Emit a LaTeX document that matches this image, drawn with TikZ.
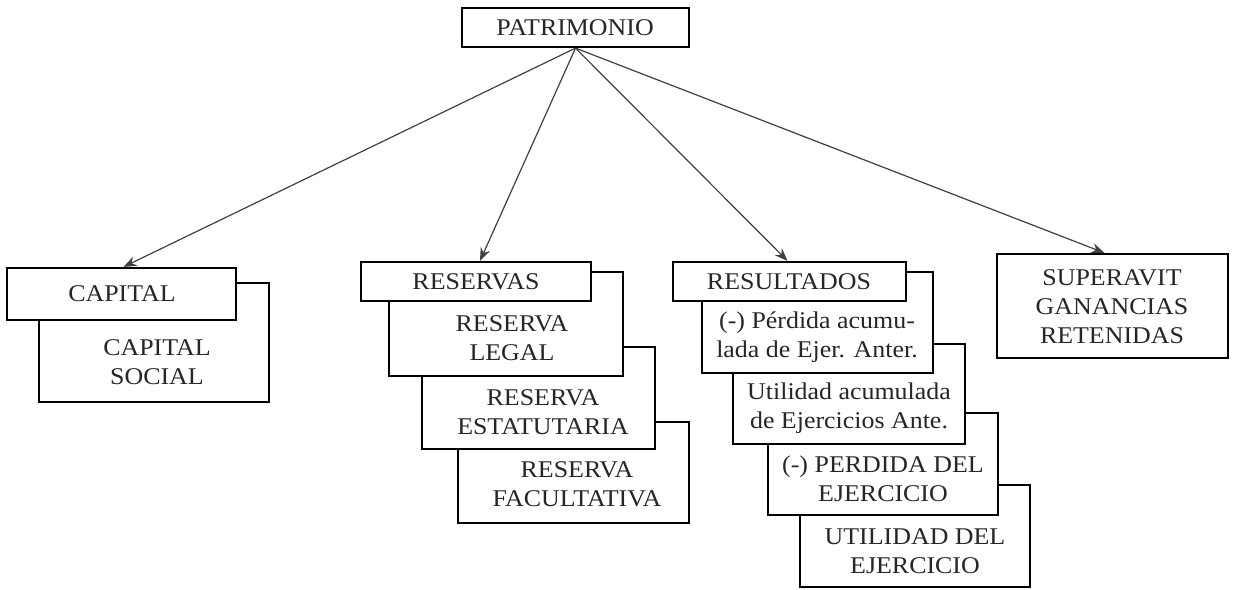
\documentclass[tikz,border=0pt]{standalone}
\usepackage{fontspec}
\setmainfont[FakeStretch=1.08]{Liberation Serif}
\usetikzlibrary{fit,arrows.meta}

\tikzset{
  box/.style={draw=black, line width=1.1pt, fill=white, inner sep=0pt, rectangle},
  lbl/.style={align=center, font=\fontsize{12}{14.5}\selectfont, text=black!85, inner sep=0pt},
  link/.style={draw=black!75, line width=0.6pt, -{Stealth[length=6.5pt,width=5pt]}}
}

\begin{document}
\begin{tikzpicture}[x=0.5pt,y=-0.5pt]
  \useasboundingbox (0,0) rectangle (1234,589);

  % top node
  \node[box, fit={(462,8) (689,47)}] (pat) {};
  \node[lbl] (patt) at (575,28) {PATRIMONIO};

  % capital group (back box first)
  \node[box, fit={(39,283) (269,402)}] (capsoc) {};
  \node[box, fit={(7,268) (236,320)}] (cap) {};
  \node[lbl] (capt) at (122,294) {CAPITAL};
  \node[lbl] (capsoct) at (157,362) {CAPITAL\\SOCIAL};

  % reservas group
  \node[box, fit={(458,422) (689,523)}] (facul) {};
  \node[box, fit={(422,347) (655,449)}] (estat) {};
  \node[box, fit={(389,272) (623,376)}] (legal) {};
  \node[box, fit={(361,262) (591,301)}] (res) {};
  \node[lbl] (rest) at (476,282) {RESERVAS};
  \node[lbl] (legalt) at (512,338) {RESERVA\\LEGAL};
  \node[lbl] (estatt) at (543,412) {RESERVA\\ESTATUTARIA};
  \node[lbl] (facult) at (577,484) {RESERVA\\FACULTATIVA};

  % resultados group
  \node[box, fit={(800,485) (1030,587)}] (uej) {};
  \node[box, fit={(768,413) (998,515)}] (pej) {};
  \node[box, fit={(733,344) (965,444)}] (uacum) {};
  \node[box, fit={(702,272) (933,373)}] (pacum) {};
  \node[box, fit={(673,262) (906,301)}] (resu) {};
  \node[lbl] (resut) at (789,282) {RESULTADOS};
  \node[lbl] (pacumt) at (817,337) {(-) Pérdida acumu-\\lada de Ejer. Anter.};
  \node[lbl] (uacumt) at (849,408) {Utilidad acumulada\\de Ejercicios Ante.};
  \node[lbl] (pejt) at (883,479) {(-) PERDIDA DEL\\EJERCICIO};
  \node[lbl] (uejt) at (915,551) {UTILIDAD DEL\\EJERCICIO};

  % superavit
  \node[box, fit={(997,254) (1228,358)}] (sup) {};
  \node[lbl] (supt) at (1112,307) {SUPERAVIT\\GANANCIAS\\RETENIDAS};

  % connectors
  \draw[link] (pat.south) -- ([xshift=1pt]cap.north);
  \draw[link] (pat.south) -- ([xshift=2pt]res.north);
  \draw[link] (pat.south) -- ([xshift=-1pt]resu.north);
  \draw[link] (pat.south) -- ([xshift=-4pt]sup.north);
\end{tikzpicture}
\end{document}
